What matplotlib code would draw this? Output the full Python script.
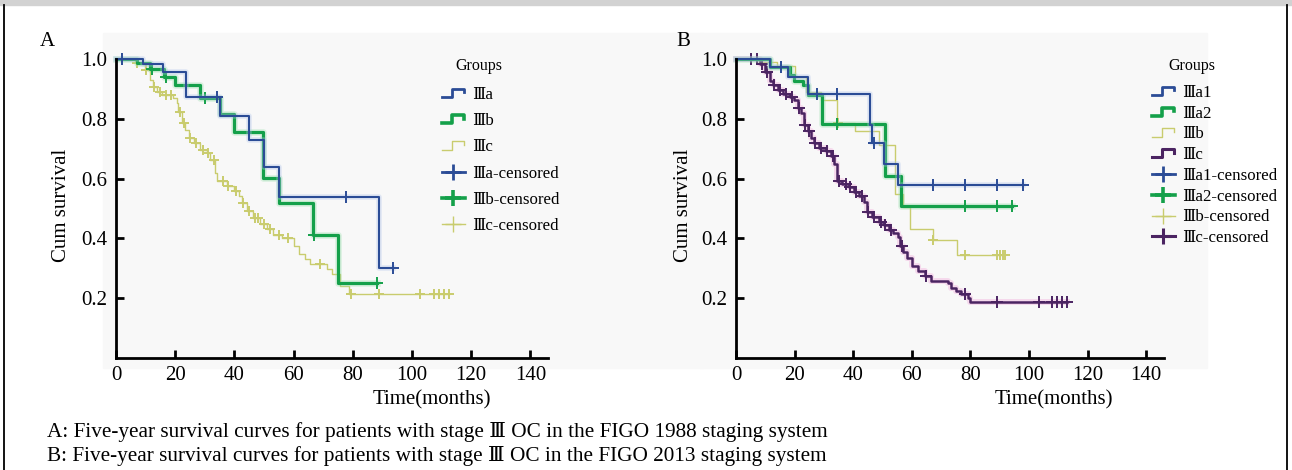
import numpy as np
import matplotlib
matplotlib.use("Agg")
import matplotlib.pyplot as plt
from matplotlib.lines import Line2D
from matplotlib.patches import Rectangle
from matplotlib.legend_handler import HandlerBase

plt.rcParams['font.family'] = ['Liberation Serif', 'DejaVu Serif', 'Noto Sans CJK SC']

# ---- panel A (FIGO 1988) : step times / survival after step, end time, censor times
a_t = [0, 9, 16, 23.5, 35, 45, 50, 55, 88.7]
a_s = [1.0, 0.983, 0.955, 0.874, 0.81, 0.73, 0.638, 0.538, 0.302]
a_end = 93.7
a_cens = [1.9, 34, 77.7, 93.7]

b_t = [0, 7, 11.5, 16.3, 20, 28.5, 35, 40, 49.8, 54.9, 66.7, 74.9]
b_s = [1.0, 0.985, 0.965, 0.94, 0.912, 0.869, 0.815, 0.756, 0.602, 0.517, 0.41, 0.25]
b_end = 88.2
b_cens = [12, 17, 30.1, 66.8, 88.2]

c_t = [0, 6.4, 9.8, 11.5, 12.6, 13.8, 15.4, 19.4, 20.5, 21.1, 22.2, 23.3, 24.5, 26.2, 28.4,
       30.7, 31.8, 33.5, 34.0, 37.4, 39.7, 41.4, 42.5, 44.2, 46.4, 48.7, 51.0, 53.2, 56.0,
       60.0, 61.7, 63.9, 65.6, 71.3, 73.0, 75.8, 78.6]
c_s = [1.0, 0.986, 0.963, 0.930, 0.908, 0.891, 0.880, 0.869, 0.852, 0.824, 0.786, 0.763, 0.736,
       0.719, 0.697, 0.686, 0.663, 0.619, 0.591, 0.574, 0.558, 0.541, 0.519, 0.491, 0.469, 0.447,
       0.430, 0.413, 0.400, 0.374, 0.347, 0.330, 0.313, 0.297, 0.280, 0.241, 0.213]
c_end = 112.4
c_cens = [7, 10, 13, 15, 17, 18.5, 21.5, 23, 25, 27, 29.5, 31, 33, 36, 38, 40.5, 43, 45, 47,
          48, 50, 52, 55, 58, 69, 79.5, 88.7, 102.8, 107.3, 109, 110.7, 112.4]

# ---- panel B (FIGO 2013)
a1_t = [0, 11.5, 17.7, 24.5, 45.6, 46.4, 50.4, 55.4]
a1_s = [1.0, 0.973, 0.94, 0.882, 0.78, 0.72, 0.648, 0.579]
a1_end = 98
a1_cens = [15.4, 27.8, 34.6, 47, 67.3, 78.3, 89.2, 98]

a2_t = [0, 11.5, 18.3, 19.9, 22.8, 24.5, 29.3, 50.7, 56.3]
a2_s = [1.0, 0.973, 0.945, 0.928, 0.912, 0.879, 0.782, 0.609, 0.508]
a2_end = 94.1
a2_cens = [34.6, 78.3, 89.2, 94.1]

b3_t = [0, 8, 14, 20, 24, 29, 34.6, 40.6, 48.7, 54.3, 57, 59.4, 67.3, 75.4]
b3_s = [1.0, 0.99, 0.975, 0.94, 0.89, 0.862, 0.785, 0.758, 0.714, 0.549, 0.505, 0.433, 0.395, 0.343]
b3_end = 91.7
b3_cens = [34.7, 67.4, 78.3, 89, 90, 91, 91.7]

c3_t = [0, 8.1, 9.8, 11.5, 12.6, 14.3, 16.0, 18.3, 19.9, 21.1, 22.2, 23.3, 24.5, 25.6, 26.7,
        28.4, 30.6, 32.3, 33.5, 34.6, 36.3, 38.5, 40.2, 41.9, 43.6, 44.7, 46.4, 48.7, 50.4,
        52.1, 53.7, 55.4, 56.0, 57.1, 58.3, 59.9, 62.2, 64.5, 66.7, 72.3, 73.5, 75.2, 76.8,
        79.1, 79.7]
c3_s = [1.0, 0.983, 0.956, 0.928, 0.912, 0.895, 0.884, 0.873, 0.862, 0.835, 0.818, 0.780,
        0.758, 0.736, 0.720, 0.703, 0.692, 0.675, 0.648, 0.593, 0.582, 0.571, 0.554, 0.543,
        0.521, 0.488, 0.472, 0.455, 0.444, 0.428, 0.417, 0.406, 0.373, 0.356, 0.334, 0.307,
        0.290, 0.274, 0.257, 0.252, 0.235, 0.224, 0.213, 0.202, 0.186]
c3_end = 112.9
c3_cens = [5, 7, 9, 10.5, 13, 15, 17, 19, 21.5, 23.5, 25, 27, 29, 31, 33, 35, 37.5, 39, 41,
           43, 45, 47, 49.5, 51, 53, 56.5, 65, 78, 89.2, 103.3, 107.8, 109.5, 111.2, 112.9]

x_ticks = [0, 20, 40, 60, 80, 100, 120, 140]
y_ticks = [0.2, 0.4, 0.6, 0.8, 1.0]

BLUE = '#2b4c96'
GREEN = '#14a04a'
YEL = '#c9cc6e'
PURP = '#4b2462'

W, H = 1292, 470
fig = plt.figure(figsize=(W / 100, H / 100), dpi=100)


def fx(px):
    return px / W


def fy(py):
    return 1 - py / H


# frame and faint image backgrounds (behind the axes)
fig.patches.append(Rectangle((0, fy(5)), 1, 5 / H, transform=fig.transFigure, color='#d2d2d2', zorder=-10))
fig.patches.append(Rectangle((fx(103), fy(368)), fx(600), (368 - 33) / H, transform=fig.transFigure,
                             color='#f8f8f8', zorder=-10))
fig.patches.append(Rectangle((fx(700), fy(368)), fx(507), (368 - 33) / H, transform=fig.transFigure,
                             color='#f8f8f8', zorder=-10))
fig.lines.append(Line2D([fx(4), fx(4)], [0, fy(5)], transform=fig.transFigure, color='black', lw=1.3))
fig.lines.append(Line2D([fx(1287), fx(1287)], [0, fy(5)], transform=fig.transFigure, color='black', lw=1.3))


def km(ax, t, s, end, cens, color, lw, halo=None, ms=8):
    xs = list(t) + [end]
    ys = list(s) + [s[-1]]
    if halo:
        ax.step(xs, ys, where='post', color=halo, lw=lw + 2.5, alpha=0.35, clip_on=False)
    ax.step(xs, ys, where='post', color=color, lw=lw, clip_on=False)
    idx = np.searchsorted(t, cens, side='right') - 1
    cy = np.array(s)[idx]
    ax.plot(cens, cy, linestyle='none', marker='+', color=color, ms=ms, mew=1.4, clip_on=False)


def style(ax):
    ax.set_facecolor('none')
    ax.set_xlim(0, 146)
    ax.set_ylim(0, 1.0)
    for sp in ['top', 'right']:
        ax.spines[sp].set_visible(False)
    for sp in ['left', 'bottom']:
        ax.spines[sp].set_linewidth(2.0)
    ax.set_xticks(x_ticks)
    ax.set_yticks(y_ticks)
    ax.set_yticklabels(['%.1f' % v for v in y_ticks])
    ax.tick_params(direction='in', length=6, width=2, labelsize=15, pad=6)


class StepHandler(HandlerBase):
    def create_artists(self, legend, orig_handle, xdescent, ydescent, width, height, fontsize, trans):
        xs = np.array([0, 0.45, 0.45, 0.95, 0.95]) * width - xdescent
        ys = np.array([0.15, 0.15, 0.85, 0.85, 0.55]) * height - ydescent
        ln = Line2D(xs, ys, color=orig_handle.get_color(), lw=orig_handle.get_linewidth(), transform=trans)
        return [ln]


def legend(ax, names, colors, lws, anchor, spacing, title_xy):
    steps = [Line2D([], [], color=c, lw=w) for c, w in zip(colors, lws)]
    cens = [Line2D([], [], color=c, lw=w, marker='+', ms=12, mew=w) for c, w in zip(colors, lws)]
    labels = names + [n + '-censored' for n in names]
    hm = {h: StepHandler() for h in steps}
    ax.legend(steps + cens, labels, handler_map=hm, loc='upper left',
              bbox_to_anchor=anchor, bbox_transform=fig.transFigure, frameon=False,
              fontsize=12.2, handlelength=1.35, handletextpad=0.45,
              labelspacing=spacing, borderpad=0, borderaxespad=0)
    fig.text(fx(title_xy[0]), fy(title_xy[1]), 'Groups', fontsize=11.5, ha='center', va='center')


# ---- panel A
axA = fig.add_axes([fx(116), fy(358), 146 * 2.96 / W, 299 / H])
style(axA)
km(axA, c_t, c_s, c_end, c_cens, YEL, 1.0, ms=7)
km(axA, b_t, b_s, b_end, b_cens, GREEN, 2.3, halo='#9fe0b0')
km(axA, a_t, a_s, a_end, a_cens, BLUE, 1.5, halo='#b0c4ec')
legend(axA, ['Ⅲa', 'Ⅲb', 'Ⅲc'], [BLUE, GREEN, YEL], [2.0, 2.6, 1.0], (fx(442), fy(87)), 0.6,
       (479, 66))

# ---- panel B
axB = fig.add_axes([fx(736), fy(358), 146 * 2.93 / W, 299 / H])
style(axB)
km(axB, b3_t, b3_s, b3_end, b3_cens, YEL, 1.0, ms=7)
km(axB, c3_t, c3_s, c3_end, c3_cens, PURP, 1.8, halo='#f0a0d8')
km(axB, a2_t, a2_s, a2_end, a2_cens, GREEN, 2.3, halo='#9fe0b0')
km(axB, a1_t, a1_s, a1_end, a1_cens, BLUE, 1.5, halo='#b0c4ec')
legend(axB, ['Ⅲa1', 'Ⅲa2', 'Ⅲb', 'Ⅲc'], [BLUE, GREEN, YEL, PURP], [2.0, 2.6, 1.0, 2.2],
       (fx(1152), fy(85)), 0.28, (1192, 66))

# text
fig.text(fx(47), fy(42), 'A', fontsize=15, ha='center', va='center')
fig.text(fx(683), fy(42), 'B', fontsize=15, ha='center', va='center')
fig.text(fx(62), fy(205), 'Cum survival', fontsize=15, rotation=90, ha='center', va='center')
fig.text(fx(683), fy(205), 'Cum survival', fontsize=15, rotation=90, ha='center', va='center')
fig.text(fx(432), fy(400), 'Time(months)', fontsize=15, ha='center', va='center')
fig.text(fx(1054), fy(400), 'Time(months)', fontsize=15, ha='center', va='center')
fig.text(fx(47), fy(432), 'A: Five-year survival curves for patients with stage Ⅲ OC in the FIGO 1988 staging system',
         fontsize=15.3, ha='left', va='center')
fig.text(fx(47), fy(456), 'B: Five-year survival curves for patients with stage Ⅲ OC in the FIGO 2013 staging system',
         fontsize=15.3, ha='left', va='center')

fig.savefig('out.png', dpi=100)
